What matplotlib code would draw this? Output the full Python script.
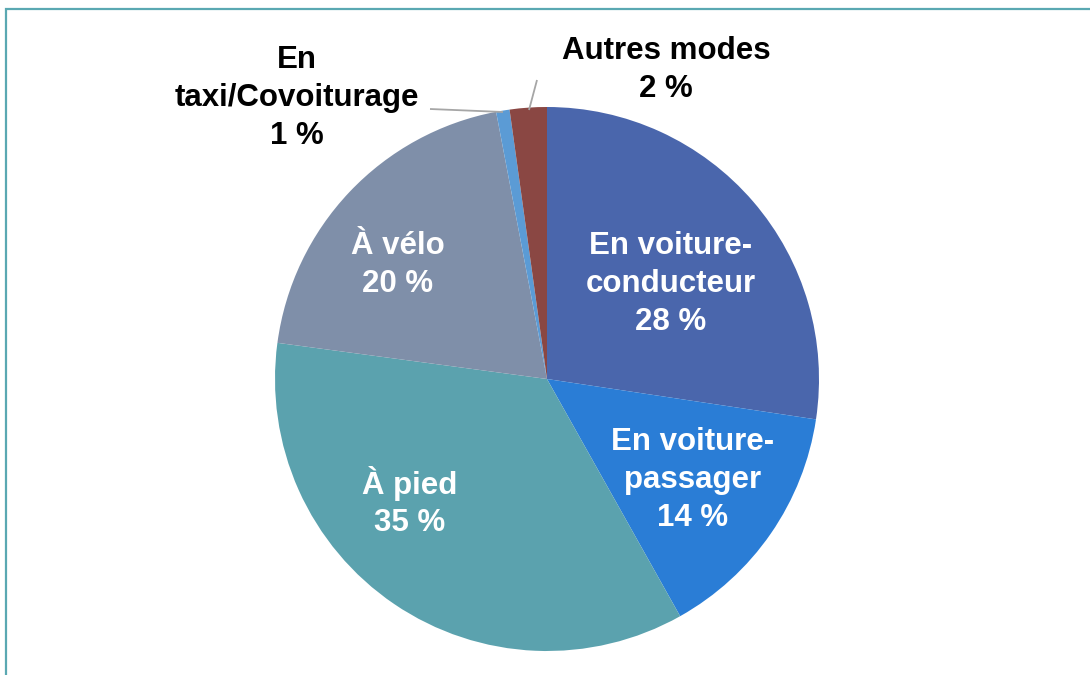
import matplotlib.pyplot as plt
from matplotlib.patches import Rectangle

# Data (share of trips by mode, %)
modes = ["En voiture-\nconducteur", "En voiture-\npassager", "À pied", "À vélo",
         "En\ntaxi/Covoiturage", "Autres modes"]
shares = [27.4, 14.5, 35.3, 19.9, 0.8, 2.2]
pct_labels = ["28 %", "14 %", "35 %", "20 %", "1 %", "2 %"]
colors = ["#4A66AC", "#2A7DD6", "#5BA2AE", "#7F8FA9", "#5B9BD5", "#8A4743"]

# Layout (pixel coordinates, y from top)
W, H = 1090, 675
center = (547, 379)
radius = 272
label_pos = [(671, 284), (693, 480), (410, 502), (398, 265), (297, 98), (666, 70)]
label_inside = [True, True, True, True, False, False]
leaders = {4: [(430, 109), (503, 112)], 5: [(537, 80), (529, 110)]}


def main():
    plt.rcParams['font.family'] = ['Liberation Sans', 'DejaVu Sans']
    fig = plt.figure(figsize=(W / 100, H / 100), dpi=100)
    ax = fig.add_axes([0, 0, 1, 1])

    ax.pie(shares, colors=colors, startangle=90, counterclock=False,
           radius=radius, center=(center[0], H - center[1]),
           wedgeprops=dict(linewidth=0), frame=True)
    ax.set_xlim(0, W)
    ax.set_ylim(0, H)
    ax.set_aspect('equal')
    ax.axis('off')

    for i, (name, pct) in enumerate(zip(modes, pct_labels)):
        x, y = label_pos[i]
        col = "white" if label_inside[i] else "black"
        ax.text(x, H - y, name + "\n" + pct, ha='center', va='center',
                fontsize=22.5, fontweight='bold', color=col, linespacing=1.33)

    for pts in leaders.values():
        ax.plot([p[0] for p in pts], [H - p[1] for p in pts],
                color="#A6A6A6", lw=1.3, solid_capstyle='butt')

    # outer frame (only top and left visible)
    fig.patches.append(Rectangle((5.5 / W, -0.1), 1.2, (H - 8.5) / H + 0.1,
                                 transform=fig.transFigure, fill=False,
                                 edgecolor="#5AA8B2", lw=1.6))

    fig.savefig("out.png", dpi=100)


if __name__ == "__main__":
    main()
